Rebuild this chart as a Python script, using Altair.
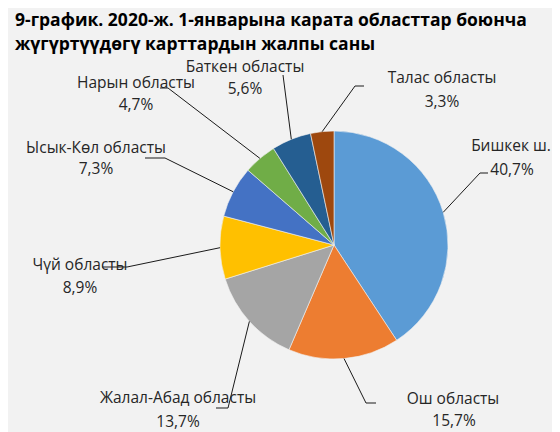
import math
import altair as alt
import pandas as pd

# ---- data ----
regions = ["Бишкек ш.", "Ош областы", "Жалал-Абад областы", "Чүй областы",
           "Ысык-Көл областы", "Нарын областы", "Баткен областы", "Талас областы"]
shares = [40.7, 15.7, 13.7, 8.9, 7.3, 4.7, 5.6, 3.3]
colors = ["#5B9BD5", "#ED7D31", "#A5A5A5", "#FFC000",
          "#4472C4", "#70AD47", "#255E91", "#9E480E"]
title_lines = ["9-график. 2020-ж. 1-январына карата областтар боюнча",
               "жүгүртүүдөгү карттардын жалпы саны"]

# ---- layout (page pixel coordinates) ----
PAD_TOP = 60
PAD_BOTTOM = 8
OX, OY = 8, 8 + PAD_TOP
CX, CY, R = 334, 245, 114
name_pos = [(511, 146), (453, 399), (178, 398), (80, 265),
            (96, 148), (136, 83), (245, 67), (442, 78)]
pct_pos = [(512, 170), (454, 421), (178, 422), (80, 288),
           (96, 169), (136, 105), (245, 89), (442, 102)]
elbows = [(480, 173), (366, 403), (228, 408), (127, 267),
          (165, 158), (168, 88), (283, 75), (355, 86)]
ends = [(488, 173), (376, 403), (216, 408), (102, 267),
        (145, 158), (160, 88), (283, 75), (364, 86)]

total = sum(shares)
pie_df = pd.DataFrame({"region": regions, "share": shares,
                       "idx": list(range(len(regions)))})

line_rows, text_rows = [], []
cum = 0.0
for i, (reg, v) in enumerate(zip(regions, shares)):
    mid = (cum + v / 2) / total * 2 * math.pi
    cum += v
    sx = CX + R * math.sin(mid)
    sy = CY - R * math.cos(mid)
    for k, (px, py) in enumerate([(sx, sy), elbows[i], ends[i]]):
        line_rows.append({"region": reg, "k": k, "x": px - OX, "y": py - OY})
    text_rows.append({"x": name_pos[i][0] - OX, "y": name_pos[i][1] - OY, "t": reg})
    text_rows.append({"x": pct_pos[i][0] - OX, "y": pct_pos[i][1] - OY,
                      "t": f"{v:.1f}".replace(".", ",") + "%"})
line_df = pd.DataFrame(line_rows)
text_df = pd.DataFrame(text_rows)

FONT = "Open Sans"

pie = alt.Chart(pie_df).mark_arc(radius=R, stroke="#F2F2F2", strokeWidth=0.6).encode(
    theta=alt.Theta("share:Q", stack=True),
    order=alt.Order("idx:Q"),
    color=alt.Color("region:N", scale=alt.Scale(domain=regions, range=colors), legend=None),
    x=alt.value(CX - OX),
    y=alt.value(CY - OY),
)

leaders = alt.Chart(line_df).mark_line(color="#1a1a1a", strokeWidth=1).encode(
    x=alt.X("x:Q", scale=None),
    y=alt.Y("y:Q", scale=None),
    detail="region:N",
    order="k:Q",
)

labels = alt.Chart(text_df).mark_text(font=FONT, fontSize=15.5, color="#262626",
                                      baseline="middle", align="center").encode(
    x=alt.X("x:Q", scale=None),
    y=alt.Y("y:Q", scale=None),
    text="t:N",
)

chart = alt.layer(pie, leaders, labels).properties(
    width=544,
    height=416 - PAD_TOP,
    padding={"left": 0, "top": PAD_TOP, "right": 0, "bottom": PAD_BOTTOM},
    autosize=alt.AutoSizeParams(type="none"),
    background="#F2F2F2",
    title=alt.TitleParams(text=title_lines, anchor="start", font=FONT, fontSize=17.5,
                          fontWeight="bold", color="#000000", lineHeight=24,
                          offset=7, dx=7),
).configure_view(strokeWidth=0)

chart.save("out.html", embed_options={"renderer": "svg", "actions": False})
